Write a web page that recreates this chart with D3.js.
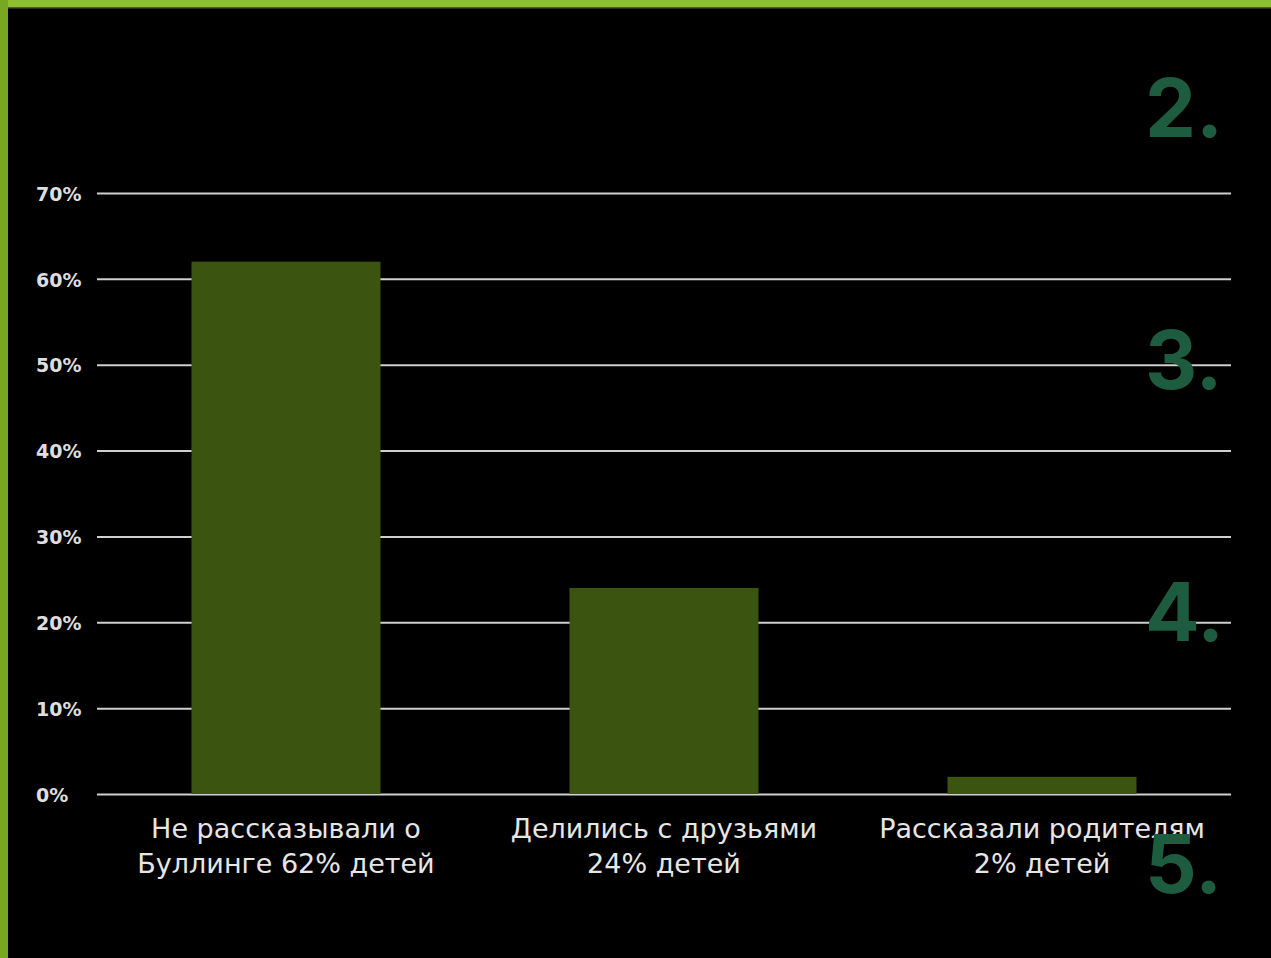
<!DOCTYPE html>
<html>
<head>
<meta charset="utf-8">
<script src="https://cdn.jsdelivr.net/npm/d3@7"></script>
<style>
  body { margin: 0; background: #000; }
  svg { display: block; }
</style>
</head>
<body>
<div id="chart"></div>
<script>
// chart data
var categories = ["Не рассказывали о\nБуллинге 62% детей", "Делились с друзьями\n24% детей", "Рассказали родителям\n2% детей"];
var values = [62, 24, 2];
var yTicks = [0, 10, 20, 30, 40, 50, 60, 70];
var sideNumbers = ["2.", "3.", "4.", "5."];

var svgWidth = 1271;
var svgHeight = 958;

var margin = { top: 193, right: 40, bottom: 164, left: 97 };
var width = svgWidth - margin.left - margin.right;
var height = svgHeight - margin.top - margin.bottom;

var svg = d3.select("#chart")
  .append("svg")
  .attr("width", svgWidth)
  .attr("height", svgHeight);

svg.append("rect")
  .attr("width", svgWidth)
  .attr("height", svgHeight)
  .attr("fill", "#000");

// green frame on top and left
svg.append("rect").attr("x", 0).attr("y", 0).attr("width", svgWidth).attr("height", 7).attr("fill", "#8cc02e");
svg.append("rect").attr("x", 0).attr("y", 0).attr("width", 8).attr("height", svgHeight).attr("fill", "#78a821");
svg.append("rect").attr("x", 8).attr("y", 7).attr("width", svgWidth - 8).attr("height", 1.5).attr("fill", "#555");

var chartGroup = svg.append("g")
  .attr("transform", `translate(${margin.left}, ${margin.top})`);

var xScale = d3.scaleBand()
  .domain(categories)
  .range([0, width])
  .paddingInner(0.5)
  .paddingOuter(0.25);

var yScale = d3.scaleLinear()
  .domain([0, 70])
  .range([height, 0]);

// category labels
var xAxis = chartGroup.append("g")
  .attr("transform", `translate(0, ${height})`);

xAxis.selectAll("text")
  .data(categories)
  .enter()
  .append("text")
  .attr("x", d => xScale(d) + xScale.bandwidth() / 2)
  .attr("y", 44)
  .attr("text-anchor", "middle")
  .attr("fill", "#e6e6e6")
  .attr("font-family", "DejaVu Sans, sans-serif")
  .attr("font-size", 27)
  .each(function(d) {
    var lines = d.split("\n");
    var t = d3.select(this);
    lines.forEach(function(line, i) {
      t.append("tspan")
        .attr("x", xScale(d) + xScale.bandwidth() / 2)
        .attr("dy", i === 0 ? 0 : 35)
        .text(line);
    });
  });

// gridlines
var leftAxis = d3.axisLeft(yScale)
  .tickValues(yTicks)
  .tickSize(-width)
  .tickFormat(d => d + "%");

var yAxis = chartGroup.append("g").call(leftAxis);
yAxis.select(".domain").remove();
yAxis.selectAll(".tick line")
  .attr("stroke", "#cfcfcf")
  .attr("stroke-width", 2);
yAxis.selectAll(".tick text")
  .attr("x", -61)
  .attr("text-anchor", "start")
  .attr("fill", "#dedede")
  .attr("font-family", "DejaVu Sans, sans-serif")
  .attr("font-weight", "bold")
  .attr("font-size", 19)
  .attr("dy", "0.38em");

// bars
chartGroup.selectAll(".bar")
  .data(values)
  .enter()
  .append("rect")
  .attr("class", "bar")
  .attr("x", (d, i) => xScale(categories[i]))
  .attr("y", d => yScale(d))
  .attr("width", xScale.bandwidth())
  .attr("height", d => height - yScale(d))
  .attr("fill", "#3b5510");

// big decorative numbers on the right
svg.selectAll(".side-num")
  .data(sideNumbers)
  .enter()
  .append("text")
  .attr("class", "side-num")
  .attr("x", 1145)
  .attr("y", (d, i) => 137 + i * 252)
  .attr("fill", "#1d5c3e")
  .attr("font-family", "Inter, Open Sans, sans-serif")
  .attr("font-weight", 700)
  .attr("font-size", 81)
  .text(d => d);
</script>
</body>
</html>
